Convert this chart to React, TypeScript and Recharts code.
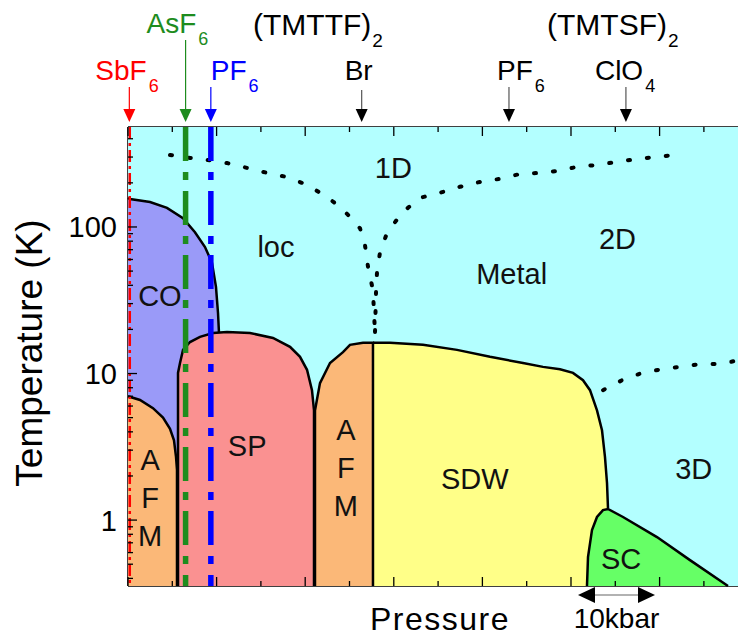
import React from "react";
import { ComposedChart, Area, Line, Scatter, XAxis, YAxis, ReferenceLine, Customized } from "recharts";

const FONT = '"Liberation Sans", Arial, Helvetica, sans-serif';

const T_MIN = 0.355;
const T_MAX = 481;
const P_MAX = 13.77;

// phase boundaries: [pressure (tick units), temperature (K)]
const coTop = [[0, 158], [0.045, 155], [0.497, 148], [0.88, 135], [1.242, 115], [1.512, 92], [1.738, 73], [1.896, 57], [1.986, 39], [2.032, 25.9], [2.054, 18.9]];
const afmLeftTop = [[0, 7.0], [0.271, 6.6], [0.564, 5.8], [0.79, 5.0], [0.948, 4.2], [1.038, 3.5], [1.084, 2.7], [1.106, 2.2], [1.106, T_MIN]];
const spTop = [[1.129, T_MIN], [1.129, 10.1], [1.174, 11.8], [1.242, 14.5], [1.4, 16.4], [1.625, 17.8], [1.919, 18.9], [2.235, 19.2], [2.754, 18.9], [3.273, 17.5], [3.657, 15.2], [3.883, 13.0], [4.041, 10.6], [4.153, 7.7], [4.199, 5.6], [4.199, T_MIN]];
const afmMidTop = [[4.221, T_MIN], [4.221, 5.6], [4.334, 8.6], [4.56, 11.8], [4.853, 14.0], [5.011, 15.7], [5.305, 16.2], [5.53, 16.2], [5.53, T_MIN]];
const sdwTop = [[5.53, 16.2], [5.914, 16.2], [6.659, 15.7], [7.427, 14.5], [8.172, 13.0], [8.916, 11.8], [9.368, 11.1], [9.752, 10.7], [10.045, 10.1], [10.271, 9.0], [10.429, 7.7], [10.587, 5.6], [10.7, 4.1], [10.767, 2.7], [10.813, 1.79], [10.835, 1.21]];
const scTop = [[10.361, T_MIN], [10.384, 0.559], [10.474, 0.855], [10.587, 1.05], [10.722, 1.17], [10.835, 1.19], [11.174, 1.05], [11.941, 0.766], [12.686, 0.533], [13.544, T_MIN]];
const metalBg = [[0, T_MAX], [P_MAX, T_MAX]];

// dotted crossover lines
const cross1D = [[0.948, 310], [1.4, 296], [1.783, 287], [2.235, 273], [2.686, 253], [3.138, 234], [3.589, 219], [4.041, 194], [4.492, 160], [4.786, 137], [4.966, 121], [5.237, 98], [5.35, 75], [5.42, 53], [5.53, 37], [5.553, 25.9], [5.576, 19.2]];
const cross2D = [[5.576, 19.2], [5.6, 37], [5.621, 49], [5.688, 67], [5.847, 91], [6.185, 125], [6.591, 158], [7.043, 171], [7.494, 188], [7.946, 203], [8.397, 213], [8.849, 230], [9.3, 234], [9.707, 241], [10.135, 257], [10.587, 265], [11.038, 278], [11.49, 291], [11.896, 300], [12.348, 310]];
const cross3D = [[10.722, 7.7], [11.151, 9.0], [11.603, 10.1], [12.054, 10.7], [12.46, 11.1], [12.912, 11.6], [13.363, 11.6], [13.77, 12.3]];

// ambient pressure of the anion salts
const sbf6Line = [[0.04, T_MAX], [0.04, T_MIN]];
const asf6Line = [[1.3, T_MAX], [1.3, T_MIN]];
const pf6Line = [[1.87, T_MAX], [1.87, T_MIN]];

const saltNames = ["SbF", "AsF", "PF", "Br", "PF", "ClO"];
const saltSubs = ["6", "6", "6", "", "6", "4"];
const saltPressure = [0.03, 1.3, 1.87, 5.275, 8.6, 11.24];

const regionNames = ["1D", "2D", "Metal", "loc", "CO", "SP", "A\nF\nM", "A\nF\nM", "SDW", "3D", "SC"];
const regionP = [5.99, 11.05, 8.66, 3.34, 0.72, 2.69, 0.5, 4.92, 7.83, 12.77, 11.13];
const regionT = [253, 84, 47.8, 73, 34.3, 3.2, 1.42, 2.3, 1.93, 2.26, 0.55];

const scaleBar = [10.158, 11.896]; // 10 kbar

const yTicks = [0.4, 0.5, 0.6, 0.7, 0.8, 0.9, 1, 2, 3, 4, 5, 6, 7, 8, 9, 10, 20, 30, 40, 50, 60, 70, 80, 90, 100, 200, 300, 400];
const yLabels = [1, 10, 100];
const xTicks = [0, 1, 2, 3, 4, 5, 6, 7, 8, 9, 10, 11, 12, 13];

const series: Record<string, number[][]> = {
  bg: metalBg, co: coTop, afmL: afmLeftTop, sp: spTop, afmM: afmMidTop, sdw: sdwTop, sc: scTop,
  c1: cross1D, c2: cross2D, c3: cross3D, sbf6: sbf6Line, asf6: asf6Line, pf6: pf6Line,
};
const table = Object.entries(series)
  .flatMap(([key, pts]) => pts.map(([p, T]) => ({ p, [key]: T })))
  .sort((a, b) => a.p - b.p);

const saltData = saltPressure.map((p, i) => ({ p, T: T_MAX, i }));
const regionData = regionNames.map((name, i) => ({ p: regionP[i], T: regionT[i], name }));

const saltStyle = [
  { color: "#ff0000", shaft: "#ff0000", top: 87, dx: -34, base: 80 },
  { color: "#1e8c1e", shaft: "#1e8c1e", top: 40, dx: -39, base: 33 },
  { color: "#0000ff", shaft: "#0000ff", top: 87, dx: 0, base: 80 },
  { color: "#000", shaft: "#555", top: 90, dx: -17, base: 80 },
  { color: "#000", shaft: "#555", top: 87, dx: -12, base: 80 },
  { color: "#000", shaft: "#555", top: 87, dx: -31, base: 80 },
];

const fills = { bg: "#b3ffff", co: "#9a9af8", afm: "#fbb878", sp: "#fa9191", sdw: "#ffff88", sc: "#66ff66" };

// plot frame (pixels)
const LEFT = 128;
const TOP = 127;
const BOTTOM = 586;

function LeftTick({ y, payload }: any) {
  const major = yLabels.includes(payload.value);
  return (
    <g>
      <line x1={LEFT} x2={LEFT + (major ? 9 : 5)} y1={y} y2={y} stroke="#000" strokeWidth={1.3} />
      {major && (
        <text x={LEFT - 11} y={y} dy="0.36em" textAnchor="end" fontSize={29} fontFamily={FONT} fill="#000">
          {payload.value}
        </text>
      )}
    </g>
  );
}

function BottomTick({ x, payload }: any) {
  const len = payload.value % 2 === 0 ? 9 : 5;
  return <line x1={x} x2={x} y1={BOTTOM} y2={BOTTOM - len} stroke="#000" strokeWidth={1.3} />;
}

function TopTick({ x, payload }: any) {
  const len = payload.value % 2 === 0 ? 9 : 5;
  return <line x1={x} x2={x} y1={TOP} y2={TOP + len} stroke="#000" strokeWidth={1.3} />;
}

function SaltArrow({ cx, cy, payload }: any) {
  const s = saltStyle[payload.i];
  const tip = cy - 5;
  return (
    <g>
      <line x1={cx} x2={cx} y1={s.top} y2={tip - 10} stroke={s.shaft} strokeWidth={1.2} />
      <polygon points={`${cx - 6},${tip - 13} ${cx + 6},${tip - 13} ${cx},${tip}`} fill={s.color} />
      <text x={cx + s.dx} y={s.base} fontSize={28} fontFamily={FONT} fill={s.color}>
        {saltNames[payload.i]}
        <tspan dx={2} dy={12} fontSize={18}>{saltSubs[payload.i]}</tspan>
      </text>
    </g>
  );
}

function RegionLabel({ cx, cy, payload }: any) {
  const lines = payload.name.split("\n");
  const start = cy - ((lines.length - 1) * 38) / 2;
  return (
    <g>
      {lines.map((t: string, k: number) => (
        <text key={k} x={cx} y={start + k * 38} dy="0.36em" textAnchor="middle" fontSize={29} fontFamily={FONT} fill="#111">
          {t}
        </text>
      ))}
    </g>
  );
}

function ScaleBar({ x1, x2, y1 }: any) {
  const y = y1 + 9;
  const l = Math.min(x1, x2);
  const r = Math.max(x1, x2);
  return (
    <g>
      <line x1={l + 16} x2={r - 16} y1={y} y2={y} stroke="#666" strokeWidth={1.2} />
      <polygon points={`${l},${y} ${l + 17},${y - 8} ${l + 17},${y + 8}`} fill="#000" />
      <polygon points={`${r},${y} ${r - 17},${y - 8} ${r - 17},${y + 8}`} fill="#000" />
      <text x={(l + r) / 2} y={628} textAnchor="middle" fontSize={28} fontFamily={FONT} fill="#000">10kbar</text>
    </g>
  );
}

function Titles() {
  return (
    <g fontFamily={FONT} fill="#000">
      <text x={253} y={35} fontSize={30}>
        (TMTTF)<tspan dx={1} dy={12} fontSize={19}>2</tspan>
      </text>
      <text x={547} y={35} fontSize={30}>
        (TMTSF)<tspan dx={1} dy={12} fontSize={19}>2</tspan>
      </text>
      <text x={440} y={630} textAnchor="middle" fontSize={32} letterSpacing={1.5}>Pressure</text>
      <text x={42} y={353} textAnchor="middle" fontSize={37} transform="rotate(-90 42 353)">Temperature (K)</text>
      <line x1={LEFT} x2={738} y1={TOP} y2={TOP} stroke="#000" strokeWidth={1.5} />
      <line x1={LEFT} x2={738} y1={BOTTOM} y2={BOTTOM} stroke="#000" strokeWidth={1.5} />
      <line x1={LEFT} x2={LEFT} y1={TOP} y2={BOTTOM} stroke="#000" strokeWidth={1.5} />
    </g>
  );
}

export default function App() {
  const area = (key: string, fill: string) => (
    <Area key={key} dataKey={key} type="linear" fill={fill} fillOpacity={1} stroke="none" baseValue={T_MIN}
      connectNulls dot={false} activeDot={false} isAnimationActive={false} />
  );
  const outline = (key: string) => (
    <Line key={"l" + key} dataKey={key} type="linear" stroke="#000" strokeWidth={2.5} connectNulls
      dot={false} activeDot={false} isAnimationActive={false} />
  );
  const dotted = (key: string) => (
    <Line key={key} dataKey={key} type="linear" stroke="#000" strokeWidth={4} strokeLinecap="round"
      strokeDasharray="2 17" connectNulls dot={false} activeDot={false} isAnimationActive={false} />
  );
  const anion = (key: string, color: string, width: number, dash: string) => (
    <Line key={key} dataKey={key} type="linear" stroke={color} strokeWidth={width} strokeDasharray={dash}
      connectNulls dot={false} activeDot={false} isAnimationActive={false} />
  );
  return (
    <div style={{ position: "absolute", left: 0, top: 0, width: 738, height: 639, background: "#fff" }}>
      <ComposedChart width={738} height={639} data={table} margin={{ top: 97, right: 0, bottom: 23, left: 68 }}>
        <XAxis dataKey="p" type="number" domain={[0, P_MAX]} ticks={xTicks} interval={0} height={30}
          tick={<BottomTick />} tickLine={false} axisLine={false} />
        <XAxis xAxisId="top" orientation="top" dataKey="p" type="number" domain={[0, P_MAX]} ticks={xTicks}
          interval={0} height={30} tick={<TopTick />} tickLine={false} axisLine={false} />
        <YAxis type="number" scale="log" domain={[T_MIN, T_MAX]} ticks={yTicks} interval={0} width={60}
          tick={<LeftTick />} tickLine={false} axisLine={false} />
        {area("bg", fills.bg)}
        {area("co", fills.co)}
        {area("afmL", fills.afm)}
        {area("sp", fills.sp)}
        {area("afmM", fills.afm)}
        {area("sdw", fills.sdw)}
        {area("sc", fills.sc)}
        {outline("co")}
        {outline("afmL")}
        {outline("sp")}
        {outline("afmM")}
        {outline("sdw")}
        {outline("sc")}
        {dotted("c1")}
        {dotted("c2")}
        {dotted("c3")}
        {anion("sbf6", "#ff0000", 2.5, "12 4 3 4")}
        {anion("asf6", "#1e8c1e", 5.5, "34 11 8 11")}
        {anion("pf6", "#0000ff", 5.5, "34 11 8 11")}
        <Scatter data={saltData} dataKey="T" shape={SaltArrow} isAnimationActive={false} />
        <Scatter data={regionData} dataKey="T" shape={RegionLabel} isAnimationActive={false} />
        <ReferenceLine segment={[{ x: scaleBar[0], y: T_MIN }, { x: scaleBar[1], y: T_MIN }]} ifOverflow="visible"
          shape={ScaleBar} />
        <Customized component={Titles} />
      </ComposedChart>
    </div>
  );
}
